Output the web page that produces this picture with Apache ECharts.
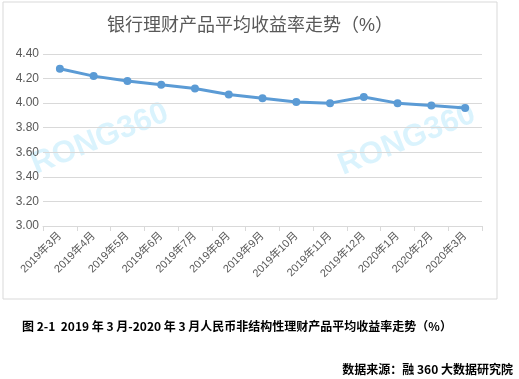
<!DOCTYPE html>
<html><head><meta charset="utf-8">
<script src="https://cdn.jsdelivr.net/npm/echarts@6/dist/echarts.min.js"></script>
<style>html,body{margin:0;padding:0;background:#fff}#c{width:519px;height:379px}</style>
</head><body><div id="c"></div>
<script>
const categories = ['2019年3月','2019年4月','2019年5月','2019年6月','2019年7月','2019年8月','2019年9月','2019年10月','2019年11月','2019年12月','2020年1月','2020年2月','2020年3月'];
const yieldValues = [4.28,4.22,4.18,4.15,4.12,4.07,4.04,4.01,4.00,4.05,4.00,3.98,3.96];
const titleText = '银行理财产品平均收益率走势（%）';
const captionText = '图 2-1  2019 年 3 月-2020 年 3 月人民币非结构性理财产品平均收益率走势（%）';
const sourceText = '数据来源：融 360 大数据研究院';
const watermarkText = 'RONG360';

const chart = echarts.init(document.getElementById('c'), null, {renderer:'canvas'});
const fontFam = '"Liberation Sans","Noto Sans CJK SC",sans-serif';
const wmStyle = {text:watermarkText,fontSize:31,fontWeight:'bold',fill:'rgba(150,220,250,0.35)',fontFamily:'"Liberation Sans",sans-serif',align:'center',verticalAlign:'middle'};
chart.setOption({
  animation:false,
  backgroundColor:'#fff',
  title:{text:titleText,left:102,top:12,textStyle:{fontSize:18,fontWeight:'normal',color:'#595959',fontFamily:fontFam}},
  grid:{left:43,right:37,top:54,bottom:153},
  xAxis:{type:'category',data:categories,boundaryGap:true,
    axisLine:{lineStyle:{color:'#d9d9d9'}},
    axisTick:{show:true,lineStyle:{color:'#d9d9d9'},length:5},
    axisLabel:{rotate:45,fontSize:11,color:'#595959',fontFamily:fontFam,margin:8}},
  yAxis:{type:'value',min:3,max:4.4,interval:0.2,
    axisLine:{show:false},axisTick:{show:false},
    splitLine:{lineStyle:{color:'#d9d9d9'}},
    axisLabel:{formatter:v=>v.toFixed(2),fontSize:12,color:'#595959',fontFamily:fontFam,margin:4}},
  series:[{type:'line',data:yieldValues,symbol:'circle',symbolSize:8,
    lineStyle:{color:'#5b9bd5',width:3},itemStyle:{color:'#5b9bd5'},z:5}],
  graphic:[
    {type:'rect',shape:{x:3,y:2,width:494,height:297},style:{fill:null,stroke:'#d9d9d9',lineWidth:1},silent:true},
    {type:'text',x:100,y:139,rotation:22*Math.PI/180,style:wmStyle,silent:true,z:-1},
    {type:'text',x:407,y:140,rotation:22*Math.PI/180,style:wmStyle,silent:true,z:-1},
    {type:'text',x:22,y:320,style:{text:captionText,fontSize:12,fontWeight:'bold',fill:'#000',fontFamily:'"Noto Sans CJK SC",sans-serif'}},
    {type:'text',x:513,y:363,style:{text:sourceText,fontSize:12,fontWeight:'bold',fill:'#000',align:'right',fontFamily:'"Noto Sans CJK SC",sans-serif'}}
  ]
});
</script></body></html>
